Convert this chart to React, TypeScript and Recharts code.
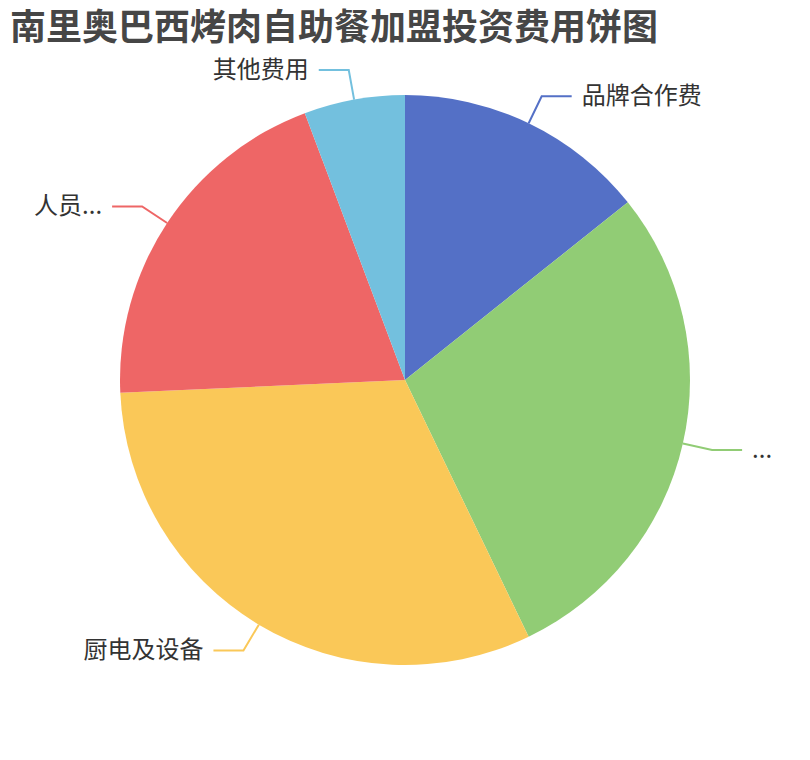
import React from 'react';
import { PieChart, Pie, Cell } from 'recharts';

const title = '南里奥巴西烤肉自助餐加盟投资费用饼图';
const categories = ['品牌合作费', '...', '厨电及设备', '人员...', '其他费用'];
const values = [5, 10, 11, 7, 2];
const colors = ['#5470c6', '#91cc75', '#fac858', '#ee6666', '#73c0de'];

const data = categories.map((name, i) => ({ name, value: values[i] }));

const RADIAN = Math.PI / 180;
const LEN1 = 30;
const LEN2 = 30;
const GAP = 10;

const renderLabel = (props: any) => {
  const { cx, cy, midAngle, outerRadius, index } = props;
  const cos = Math.cos(-midAngle * RADIAN);
  const sin = Math.sin(-midAngle * RADIAN);
  const sx = cx + outerRadius * cos;
  const sy = cy + outerRadius * sin;
  const mx = cx + (outerRadius + LEN1) * cos;
  const my = cy + (outerRadius + LEN1) * sin;
  const right = cos >= 0;
  const ex = mx + (right ? LEN2 : -LEN2);
  const tx = ex + (right ? GAP : -GAP);
  const color = colors[index % colors.length];
  return (
    <g key={`lbl-${index}`}>
      <polyline
        points={`${sx},${sy} ${mx},${my} ${ex},${my}`}
        fill="none"
        stroke={color}
        strokeWidth={2}
      />
      <text
        x={tx}
        y={my - 3}
        textAnchor={right ? 'start' : 'end'}
        dominantBaseline="central"
        fill="#333"
        fontSize={24}
        fontFamily="'Noto Sans CJK SC', 'Noto Sans', sans-serif"
      >
        {categories[index]}
      </text>
    </g>
  );
};

export default function App() {
  return (
    <div style={{ position: 'absolute', left: 0, top: 0, width: 810, height: 760, background: '#fff' }}>
      <PieChart width={810} height={760} margin={{ top: 0, right: 0, bottom: 0, left: 0 }}>
        <Pie
          data={data}
          dataKey="value"
          nameKey="name"
          cx={405}
          cy={380}
          innerRadius={0}
          outerRadius={285}
          startAngle={90}
          endAngle={-270}
          stroke="none"
          label={renderLabel}
          labelLine={false}
          isAnimationActive={false}
        >
          {data.map((d, i) => (
            <Cell key={d.name + i} fill={colors[i % colors.length]} stroke="none" />
          ))}
        </Pie>
      </PieChart>
      <svg
        width={810}
        height={80}
        style={{ position: 'absolute', left: 0, top: 0, pointerEvents: 'none' }}
      >
        <text
          x={10}
          y={40}
          fontSize={36}
          fontWeight="bold"
          fill="#464646"
          fontFamily="'Noto Sans CJK SC', 'Noto Sans', sans-serif"
        >
          {title}
        </text>
      </svg>
    </div>
  );
}
